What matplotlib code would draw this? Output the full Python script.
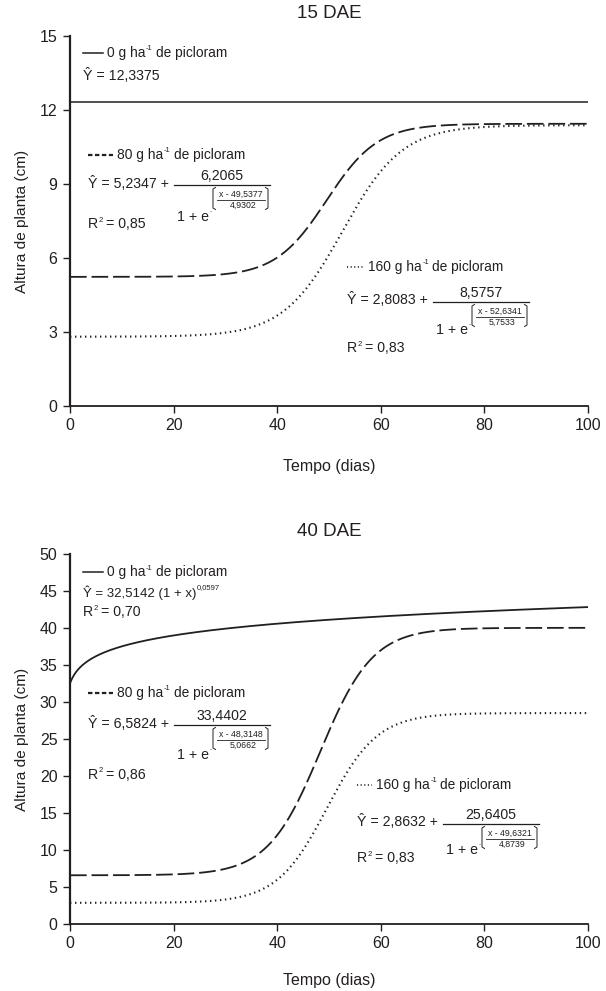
import numpy as np
import matplotlib
matplotlib.use('Agg')
import matplotlib.pyplot as plt
from matplotlib.lines import Line2D

plt.rcParams['font.family'] = ['Liberation Sans', 'DejaVu Sans']
plt.rcParams['lines.scale_dashes'] = False

# ---------------- data (fitted model parameters shown on the chart) -------------
panel_titles = ['15 DAE', '40 DAE']
dose_labels = ['0', '80', '160']
const_15_0 = 12.3375                                  # Y = a
logit_15_80 = [5.2347, 6.2065, 49.5377, 4.9302]       # Y = a + b/(1+exp(-(x-c)/d))
logit_15_160 = [2.8083, 8.5757, 52.6341, 5.7533]
power_40_0 = [32.5142, 0.0597]                        # Y = a (1+x)^b
logit_40_80 = [6.5824, 33.4402, 48.3148, 5.0662]
logit_40_160 = [2.8632, 25.6405, 49.6321, 4.8739]
r2_15 = ['', '0,85', '0,83']
r2_40 = ['0,70', '0,86', '0,83']
xticks = [0, 20, 40, 60, 80, 100]
yticks_15 = [0, 3, 6, 9, 12, 15]
yticks_40 = [0, 5, 10, 15, 20, 25, 30, 35, 40, 45, 50]
x_days = np.linspace(0, 100, 501)

def logistic(p, x):
    a, b, c, d = p
    return a + b / (1 + np.exp(-(x - c) / d))

def power(p, x):
    a, b = p
    return a * (1 + x) ** b

def fmt(v):
    return f"{v:.4f}".replace('.', ',')

# ---------------- figure ----------------
W, H = 606, 991
fig = plt.figure(figsize=(W / 100, H / 100), dpi=100)
renderer = fig.canvas.get_renderer()
INK = '#231f20'

def fx(x):
    return x / W

def fy(y):
    return 1 - y / H

def txt(x, y, s, size=9.8, ha='left', va='center', **kw):
    return fig.text(fx(x), fy(y), s, fontsize=size, ha=ha, va=va, color=INK, **kw)

def rich(x, y, parts):
    """parts: list of (text, size, dy_px, gap_before_px)"""
    cx = x
    for s, size, dy, gap in parts:
        cx += gap
        t = txt(cx, y + dy, s, size=size)
        bb = t.get_window_extent(renderer=renderer)
        cx += bb.width
    return cx

def seg(xs, ys, **kw):
    fig.add_artist(Line2D([fx(v) for v in xs], [fy(v) for v in ys],
                          transform=fig.transFigure, color=INK, **kw))

DASH = (0, (12, 3.5))
DOT = (0, (1.0, 2.6))
LW = 1.3

def style_axes(ax, yticks, ymax):
    ax.set_xlim(0, 100)
    ax.set_ylim(0, ymax)
    ax.set_xticks(xticks)
    ax.set_yticks(yticks)
    for s in ['top', 'right']:
        ax.spines[s].set_visible(False)
    ax.spines['left'].set_linewidth(1.6)
    ax.spines['bottom'].set_linewidth(1.3)
    ax.spines['left'].set_color(INK)
    ax.spines['bottom'].set_color(INK)
    ax.tick_params(direction='out', length=5, width=1.0, colors=INK,
                   labelsize=11.5, pad=4)
    ax.spines['left'].set_zorder(5)

ax1 = fig.add_axes([fx(70), fy(406), fx(588) - fx(70), fy(36) - fy(406)])
ax2 = fig.add_axes([fx(70), fy(924), fx(588) - fx(70), fy(554) - fy(924)])
for ax in (ax1, ax2):
    ax.patch.set_alpha(0)

style_axes(ax1, yticks_15, 15)
style_axes(ax2, yticks_40, 50)

ax1.axhline(const_15_0, color=INK, lw=1.1)
ax1.plot(x_days, logistic(logit_15_80, x_days), color=INK, lw=LW, linestyle=DASH)
ax1.plot(x_days, logistic(logit_15_160, x_days), color=INK, lw=1.5, linestyle=DOT)

ax2.plot(x_days, power(power_40_0, x_days), color=INK, lw=LW)
ax2.plot(x_days, logistic(logit_40_80, x_days), color=INK, lw=LW, linestyle=DASH)
ax2.plot(x_days, logistic(logit_40_160, x_days), color=INK, lw=1.5, linestyle=DOT)

# titles and axis labels
txt(329, 14, panel_titles[0], size=13.5, ha='center')
txt(329, 532, panel_titles[1], size=13.5, ha='center')
txt(329, 466, 'Tempo (dias)', size=11.5, ha='center')
txt(329, 981, 'Tempo (dias)', size=11.5, ha='center')
txt(22, 221, 'Altura de planta (cm)', size=11.1, ha='center', rotation=90)
txt(22, 739, 'Altura de planta (cm)', size=11.1, ha='center', rotation=90)

# ---------------- annotations ----------------
FS = 10.2      # main equation text
FL = 9.9       # dose label text
FE = 6.3       # exponent text
FSUP = 5.5     # superscripts

def sample(kind, x0, x1, y):
    if kind == 'solid':
        seg([x0, x1], [y, y], lw=1.1)
    elif kind == 'dash':
        seg([x0, x1], [y, y], lw=1.6, linestyle=(0, (3.2, 1.8)))
    else:
        seg([x0, x1], [y, y], lw=1.2, linestyle=(0, (0.8, 1.8)))

def dose_label(kind, x0, x1, y, dose):
    sample(kind, x0, x1, y)
    rich(x1 + 4, y, [(dose + ' g ha', FL, 0, 0),
                     ('-1', FSUP, -4, 0.5),
                     ('de picloram', FL, 0, 3.2)])

def r2_text(x, y, r2):
    rich(x, y, [('R', FS, 0, 0), ('2', FSUP, -4, 0.3), ('= ' + r2, FS, 0, 3.2)])

def logistic_eq(x, y, p, r2, e_dy=31, r2_dy=41):
    a, b, c, d = p
    txt(x, y, 'Ŷ = ' + fmt(a) + ' +', size=FS)
    # main fraction
    seg([x + 86, x + 182], [y + 1.5, y + 1.5], lw=0.9)
    txt(x + 134, y - 7, fmt(b), size=FS, ha='center')
    t = txt(x + 89, y + e_dy, '1 + e', size=FS)
    ex = x + 89 + t.get_window_extent(renderer=renderer).width
    txt(ex + 0.5, y + e_dy - 5, '-', size=4.5)
    # bracket exponent
    L, R, T, B = x + 125, x + 180, y + 4.5, y + 26.5
    seg([L + 2.5, L, L, L + 2.5], [T, T + 1.5, B - 1.5, B], lw=0.7)
    seg([R - 2.5, R, R, R - 2.5], [T, T + 1.5, B - 1.5, B], lw=0.7)
    seg([x + 129, x + 177], [y + 16.5, y + 16.5], lw=0.6)
    txt(x + 153, y + 11, 'x - ' + fmt(c), size=FE, ha='center')
    txt(x + 155, y + 22.5, fmt(d), size=FE, ha='center')
    r2_text(x, y + r2_dy, r2)

# 15 DAE
dose_label('solid', 83, 103, 53, dose_labels[0])
txt(83, 75, 'Ŷ = ' + fmt(const_15_0), size=FS)
dose_label('dash', 88, 113, 155, dose_labels[1])
logistic_eq(88, 183, logit_15_80, r2_15[1], e_dy=34, r2_dy=41)
dose_label('dot', 347, 364, 267, dose_labels[2])
logistic_eq(347, 300, logit_15_160, r2_15[2], e_dy=30, r2_dy=48)

# 40 DAE
dose_label('solid', 83, 103, 572, dose_labels[0])
rich(83, 593, [('Ŷ = ' + fmt(power_40_0[0]) + ' (1 + x)', 9.5, 0, 0),
               (fmt(power_40_0[1]), FSUP, -5, 0.5)])
r2_text(83, 612, r2_40[0])
dose_label('dash', 88, 113, 693, dose_labels[1])
logistic_eq(88, 723, logit_40_80, r2_40[1], e_dy=32, r2_dy=52)
dose_label('dot', 357, 372, 785, dose_labels[2])
logistic_eq(357, 822, logit_40_160, r2_40[2], e_dy=28, r2_dy=36)

fig.savefig('out.png', dpi=100)
